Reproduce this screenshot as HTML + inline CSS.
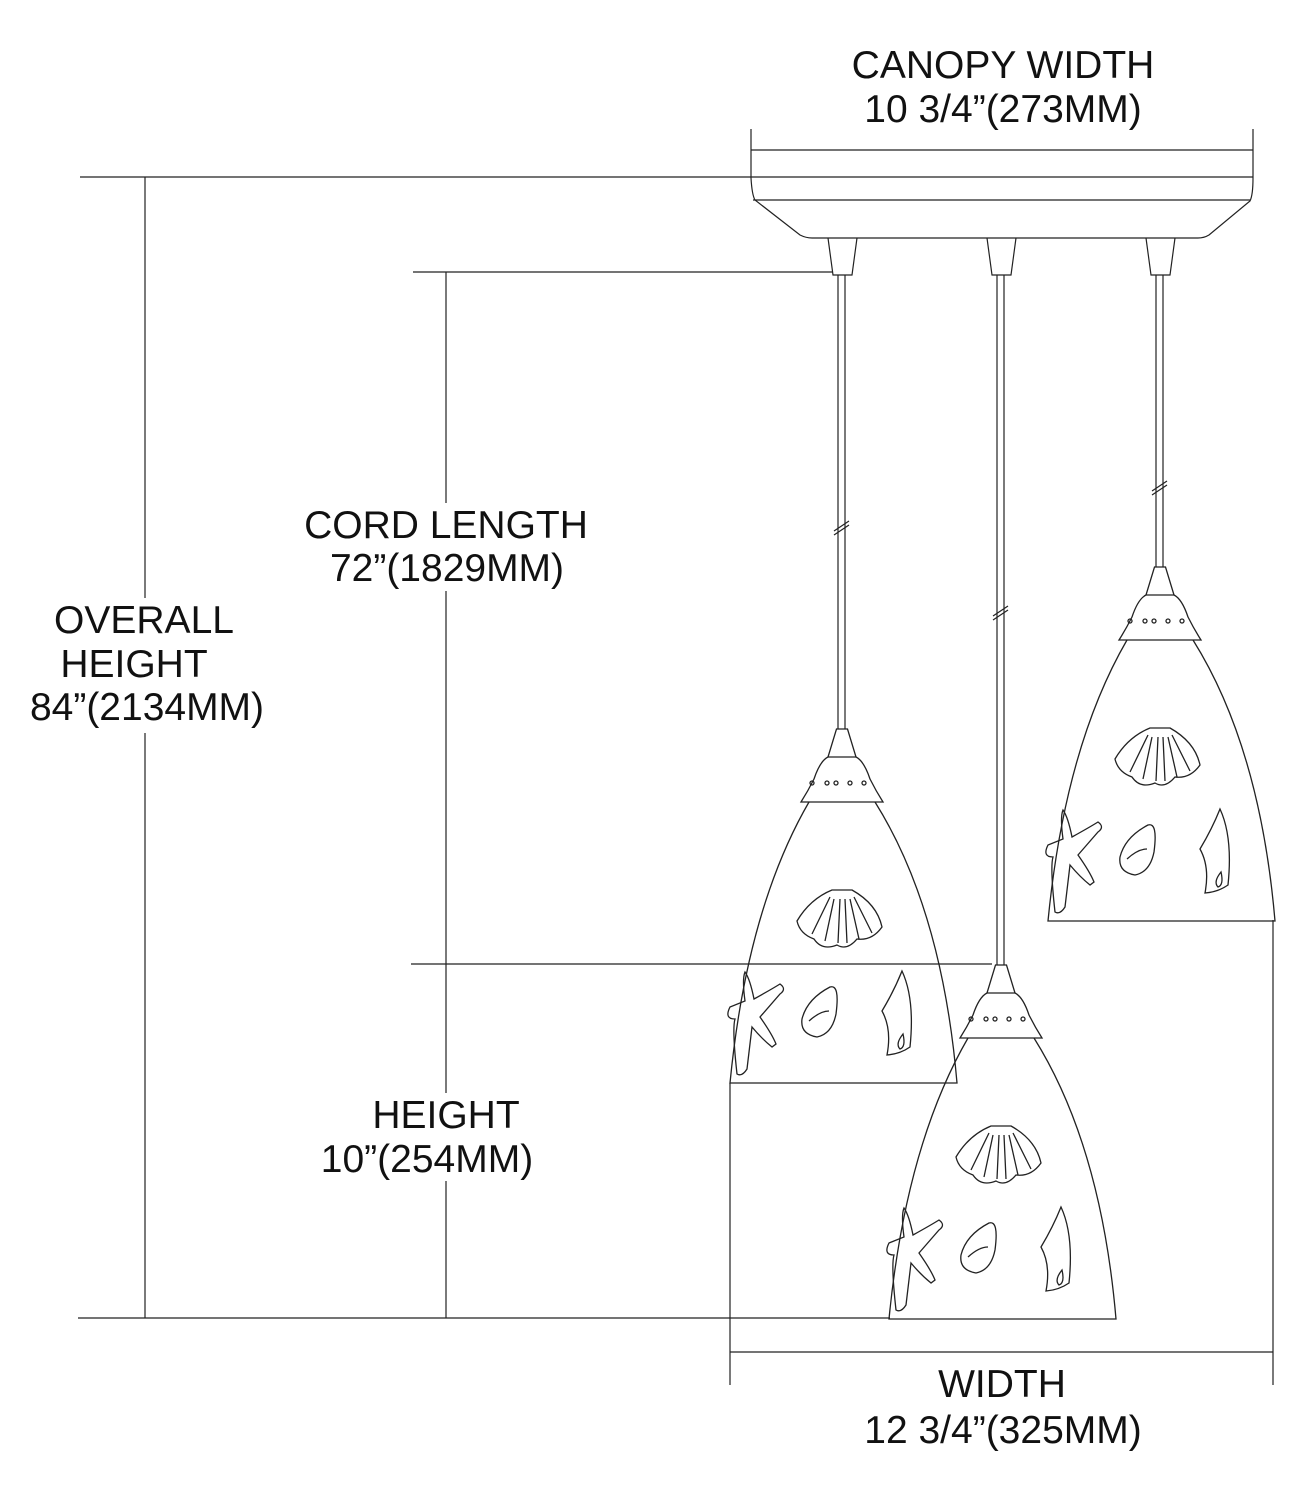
<!DOCTYPE html>
<html><head><style>html,body{margin:0;padding:0;background:#fff;}svg{display:block}text{font-family:"Liberation Sans",sans-serif;font-size:39px;fill:#111;text-anchor:middle}</style></head>
<body>
<svg width="1305" height="1500" viewBox="0 0 1305 1500" xmlns="http://www.w3.org/2000/svg">
<defs>
<g id="pend" fill="none" stroke="#222" stroke-width="1.3">
  <path d="M-5.5 0 L5.5 0 L14 28 L-14 28 Z"/>
  <path d="M-14 28 Q-22 32 -28 50 Q-34 62 -41 73 L41 73 Q34 62 28 50 Q22 32 14 28"/>
  <circle cx="-30" cy="54" r="2"/><circle cx="-15" cy="54" r="2"/><circle cx="-6" cy="54" r="2"/><circle cx="8" cy="54" r="2"/><circle cx="22" cy="54" r="2"/>
  <path d="M-33 73 Q-95 180 -112 354 L115 354 Q100 180 33 73"/>
  <path d="M-10 161 L10 161 Q35 175 40 198 Q30 212 15 210 Q5 222 -5 216 Q-20 222 -28 210 Q-42 205 -45 192 Q-32 170 -10 161 Z"/>
  <path d="M-2 170 L-4 214 M3 170 L5 214 M-8 170 L-17 212 M8 170 L17 210 M-12 168 L-30 205 M12 168 L30 204"/>
  <path d="M-105 345 Q-110 300 -107 290 Q-118 290 -112 278 L-97 272 Q-100 250 -97 243 Q-92 250 -88 270 Q-70 260 -62 255 Q-55 260 -62 265 L-82 288 Q-70 305 -66 315 L-70 318 Q-80 310 -90 298 L-95 340 Q-100 348 -105 345 Z"/>
  <path d="M-12 258 Q-2 255 -6 285 Q-10 305 -25 308 Q-42 305 -40 290 Q-35 270 -12 258 Z"/>
  <path d="M-33 292 Q-22 282 -13 282"/>
  <path d="M60 242 Q73 270 68 318 Q58 325 45 326 Q50 300 40 282 Q52 262 60 242 Z"/>
  <path d="M61 305 Q64 318 58 320 Q53 315 61 305 Z"/>
</g>
</defs>
<g fill="none" stroke="#222" stroke-width="1.2">
  <path d="M751 129 L751 178 Q752 195 755 200 L800 235 Q806 238 812 238 L1198 238 Q1204 238 1209 235 L1250 201 Q1253 195 1253 178 L1253 129"/>
  <line x1="751" y1="150" x2="1253" y2="150"/>
  <line x1="80" y1="177" x2="1253" y2="177"/>
  <line x1="753" y1="200" x2="1250" y2="200"/>
  <path d="M828 238 L833 275 L852 275 L857 238"/>
  <path d="M987 238 L992 275 L1011 275 L1016 238"/>
  <path d="M1146 238 L1151 275 L1170 275 L1175 238"/>
  <path d="M838 275 V729 M845 275 V729"/>
  <path d="M997 275 V965 M1004 275 V965"/>
  <path d="M1156 275 V567 M1163 275 V567"/>
  <path d="M834 535 L849 525 M834 531 L849 521"/>
  <path d="M993 620 L1008 610 M993 616 L1008 606"/>
  <path d="M1152 495 L1167 485 M1152 491 L1167 481"/>
  <line x1="145" y1="177" x2="145" y2="1318"/>
  <line x1="78" y1="1318" x2="890" y2="1318"/>
  <line x1="413" y1="272" x2="833" y2="272"/>
  <line x1="446" y1="272" x2="446" y2="1318"/>
  <line x1="411" y1="964" x2="992" y2="964"/>
  <line x1="730" y1="1083" x2="730" y2="1385"/>
  <line x1="1273" y1="920" x2="1273" y2="1385"/>
  <line x1="730" y1="1352" x2="1273" y2="1352"/>
</g>
<use href="#pend" x="842" y="729"/>
<use href="#pend" x="1001" y="965"/>
<use href="#pend" x="1160" y="567"/>
<g fill="#fff">
  <rect x="40" y="598" width="210" height="135"/>
  <rect x="310" y="503" width="270" height="88"/>
  <rect x="330" y="1093" width="200" height="88"/>
</g>
<text x="1003" y="78">CANOPY WIDTH</text>
<text x="1003" y="122">10 3/4”(273MM)</text>
<text x="446" y="538">CORD LENGTH</text>
<text x="447" y="581">72”(1829MM)</text>
<text x="144" y="633">OVERALL</text>
<text x="134" y="677">HEIGHT</text>
<text x="147" y="720">84”(2134MM)</text>
<text x="446" y="1128">HEIGHT</text>
<text x="427" y="1172">10”(254MM)</text>
<text x="1002" y="1397">WIDTH</text>
<text x="1003" y="1443">12 3/4”(325MM)</text>
</svg>
</body></html>
